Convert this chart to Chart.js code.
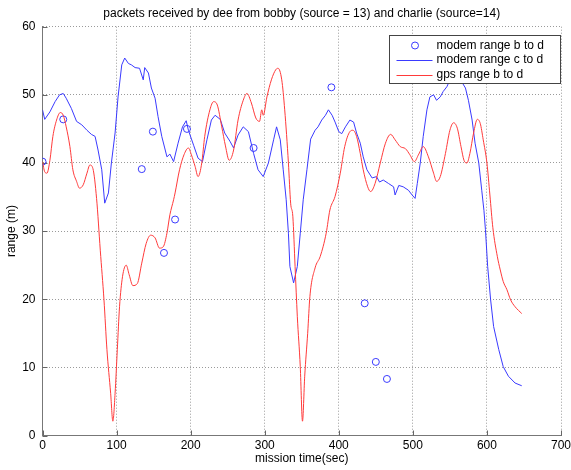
<!DOCTYPE html>
<html>
<head>
<meta charset="utf-8">
<script src="https://cdn.jsdelivr.net/npm/chart.js@4.4.0/dist/chart.umd.min.js"></script>
<style>
  html, body { margin: 0; padding: 0; background: #fff; }
  #wrap { width: 571px; height: 470px; }
</style>
</head>
<body>
<div id="wrap"><canvas id="rangeChart" width="571" height="470"></canvas></div>
<script>
// modem range b to d (single fixes, drawn as circles)
const modemBTime  = [0, 28, 134, 149, 164, 179, 195, 285, 390, 435, 450, 465];
const modemBRange = [40.2, 46.4, 39.1, 44.6, 26.8, 31.7, 45.0, 42.2, 51.1, 19.4, 10.8, 8.3];

// modem range c to d
const modemCTime = [0, 3, 10, 17, 23, 28, 32, 39, 46, 53, 60, 66, 71, 75, 80, 84, 89, 93, 98, 102,
  107, 111, 116, 120, 125, 131, 136, 138, 143, 147, 152, 156, 161, 165, 168, 172, 177, 183, 189, 194,
  197, 204, 210, 216, 222, 228, 233, 240, 246, 253, 258, 264, 271, 278, 285, 291, 298, 305, 312, 316,
  321, 325, 329, 332, 334, 339, 344, 348, 352, 357, 362, 368, 372, 377, 382, 386, 391, 395, 400, 404,
  409, 415, 420, 424, 429, 433, 438, 445, 451, 455, 460, 467, 474, 476, 481, 487, 494, 499, 503, 506,
  510, 514, 519, 523, 528, 532, 537, 541, 546, 550, 556, 561, 566, 571, 575, 580, 584, 589, 593, 596,
  598, 601, 605, 609, 616, 622, 629, 638, 647];
const modemCRange = [47.8, 46.4, 47.5, 49.0, 50.0, 50.2, 49.5, 48.0, 46.1, 45.6, 44.8, 44.2, 43.9, 41.9, 39.0, 34.1, 35.6, 40.0, 44.4, 49.7,
  54.4, 55.4, 54.6, 54.4, 54.0, 53.9, 52.2, 54.0, 53.2, 51.0, 49.5, 46.8, 43.9, 42.2, 40.9, 41.3, 40.2, 42.9, 45.3, 46.2,
  44.8, 42.6, 40.7, 40.2, 43.4, 46.3, 47.0, 46.4, 44.4, 43.2, 42.2, 44.1, 45.3, 44.6, 41.4, 39.0, 38.0, 40.0, 43.4, 45.3,
  43.4, 39.0, 34.6, 29.7, 24.8, 22.4, 24.8, 29.7, 34.6, 39.0, 43.5, 44.8, 45.3, 46.3, 47.0, 47.8, 47.0, 46.0, 44.6, 44.3,
  45.3, 46.3, 46.0, 44.4, 42.9, 40.9, 39.0, 37.8, 38.0, 37.2, 37.5, 37.0, 36.5, 35.3, 36.7, 36.5, 36.0, 35.3, 34.8, 37.0,
  40.0, 43.9, 47.8, 49.7, 50.0, 49.2, 49.7, 50.5, 51.2, 52.2, 52.6, 52.4, 51.9, 51.0, 49.2, 46.3, 42.9, 40.0, 36.0, 33.0,
  30.2, 24.8, 19.9, 16.0, 12.6, 10.1, 8.7, 7.7, 7.3];

// gps range b to d
const gpsTime = [0, 3, 6, 10, 14, 19, 24, 28, 32, 37, 41, 46, 50, 55, 60, 64, 68, 73, 78, 83,
  87, 92, 95, 98, 101, 104, 108, 113, 117, 122, 128, 134, 140, 146, 152, 158, 163, 168, 172, 177,
  179, 185, 191, 197, 201, 206, 210, 215, 219, 226, 231, 236, 242, 247, 252, 258, 264, 271, 276, 282,
  288, 293, 296, 298, 303, 309, 315, 318, 323, 327, 332, 335, 338, 341, 344, 348, 351, 354, 358, 361,
  368, 375, 383, 388, 395, 402, 408, 415, 419, 424, 429, 433, 439, 443, 449, 456, 463, 470, 476, 483,
  490, 496, 502, 508, 514, 521, 528, 532, 537, 544, 550, 555, 560, 565, 569, 573, 577, 582, 587, 591,
  595, 600, 604, 608, 614, 618, 622, 627, 632, 638, 647];
const gpsRange = [40.2, 38.7, 38.5, 40.4, 43.9, 46.3, 47.4, 47.0, 45.3, 42.4, 39.0, 37.3, 36.3, 36.8, 38.5, 39.7, 39.2, 34.8, 27.2, 19.9,
  12.6, 6.2, 2.1, 6.2, 12.6, 18.9, 23.3, 25.0, 23.6, 22.0, 22.3, 25.3, 28.2, 29.4, 29.0, 27.5, 27.7, 29.7, 32.4, 34.6,
  35.6, 39.0, 41.2, 42.2, 41.2, 39.5, 38.0, 40.0, 43.9, 47.8, 49.0, 48.5, 45.3, 42.5, 40.4, 41.9, 46.3, 49.2, 50.2, 48.8,
  46.6, 46.1, 47.8, 47.0, 49.7, 52.2, 53.7, 53.9, 52.2, 47.8, 40.0, 34.1, 32.1, 24.8, 17.5, 10.1, 2.1, 8.7, 15.0, 20.4,
  24.6, 26.3, 29.7, 33.1, 35.1, 38.5, 42.4, 44.6, 44.8, 43.9, 41.4, 39.0, 36.5, 35.8, 37.0, 40.0, 42.9, 44.2, 43.4, 42.4,
  42.1, 41.2, 40.2, 41.3, 42.4, 40.9, 38.5, 37.3, 38.0, 41.4, 44.8, 45.9, 45.1, 42.4, 40.4, 40.0, 41.4, 44.4, 46.4, 45.8,
  43.4, 40.0, 35.3, 30.5, 26.3, 24.3, 22.6, 21.4, 19.9, 18.9, 17.9];

const xTicks = [0, 100, 200, 300, 400, 500, 600, 700];
const yTicks = [0, 10, 20, 30, 40, 50, 60];

const legendLabels = ["modem range b to d", "modem range c to d", "gps range b to d"];

const toXY = (xs, ys) => xs.map((x, i) => ({ x: x, y: ys[i] }));

const BLUE = "#3a3aff";
const RED = "#ff3a3a";

Chart.defaults.font.family = "'Liberation Sans', Arial, Helvetica, sans-serif";
Chart.defaults.font.size = 12;
Chart.defaults.color = "#000";

// small tick marks pointing into the plot, like the original
const innerTicks = {
    id: "innerTicks",
    beforeDatasetsDraw(chart) {
        const { ctx, chartArea, scales } = chart;
        ctx.save();
        ctx.strokeStyle = "#666";
        ctx.lineWidth = 1;
        ctx.beginPath();
        scales.x.ticks.forEach((t) => {
            const px = Math.round(scales.x.getPixelForValue(t.value)) + 0.5;
            ctx.moveTo(px, chartArea.bottom);
            ctx.lineTo(px, chartArea.bottom - 5);
        });
        scales.y.ticks.forEach((t) => {
            const py = Math.round(scales.y.getPixelForValue(t.value)) + 0.5;
            ctx.moveTo(chartArea.left, py);
            ctx.lineTo(chartArea.left + 5, py);
        });
        ctx.stroke();
        ctx.restore();
    },
};

// boxed legend in the top right corner of the axes
const legendBox = {
    id: "legendBox",
    afterDatasetsDraw(chart) {
        const { ctx, chartArea } = chart;
        const w = 171, h = 48;
        const left = Math.round(chartArea.right - w - 1) + 0.5;
        const top = Math.round(chartArea.top + 8) + 0.5;
        ctx.save();
        ctx.fillStyle = "#fff";
        ctx.fillRect(left, top, w, h);
        ctx.strokeStyle = "#444";
        ctx.lineWidth = 1;
        ctx.strokeRect(left, top, w, h);

        const ds = chart.data.datasets;
        const rows = [top + 10, top + 24.5, top + 39];
        // circle sample
        ctx.strokeStyle = ds[0].borderColor;
        ctx.beginPath();
        ctx.arc(left + 25.5, rows[0], 3.5, 0, Math.PI * 2);
        ctx.stroke();
        // line samples
        [1, 2].forEach((i) => {
            ctx.strokeStyle = ds[i].borderColor;
            ctx.beginPath();
            ctx.moveTo(left + 7, Math.round(rows[i]) + 0.5);
            ctx.lineTo(left + 43, Math.round(rows[i]) + 0.5);
            ctx.stroke();
        });
        ctx.fillStyle = "#000";
        ctx.font = "12px 'Liberation Sans', Arial, sans-serif";
        ctx.textBaseline = "middle";
        ctx.textAlign = "left";
        legendLabels.forEach((label, i) => ctx.fillText(label, left + 47, rows[i]));
        ctx.restore();
    },
};

const ctx = document.getElementById("rangeChart").getContext("2d");
new Chart(ctx, {
    type: "line",
    data: {
        datasets: [
            {
                label: legendLabels[0],
                data: toXY(modemBTime, modemBRange),
                showLine: false,
                borderColor: BLUE,
                backgroundColor: "rgba(0,0,0,0)",
                pointRadius: 3.5,
                pointBorderWidth: 1,
                pointBackgroundColor: "rgba(0,0,0,0)",
                pointBorderColor: BLUE,
                order: 2,
            },
            {
                label: legendLabels[1],
                data: toXY(modemCTime, modemCRange),
                borderColor: BLUE,
                borderWidth: 1,
                pointRadius: 0,
                tension: 0,
                order: 1,
            },
            {
                label: legendLabels[2],
                data: toXY(gpsTime, gpsRange),
                borderColor: RED,
                borderWidth: 1,
                pointRadius: 0,
                cubicInterpolationMode: "monotone",
                order: 0,
            },
        ],
    },
    options: {
        responsive: false,
        animation: false,
        layout: { padding: { left: 0, right: 10, top: 0, bottom: 0 } },
        plugins: {
            legend: { display: false },
            tooltip: { enabled: false },
            title: {
                display: true,
                fullSize: false,
                text: "packets received by dee from bobby (source = 13) and charlie (source=14)",
                font: { size: 12, weight: "normal" },
                color: "#000",
                padding: { top: 6.8, bottom: 5.5 },
            },
        },
        scales: {
            x: {
                type: "linear",
                min: 0,
                max: 700,
                afterBuildTicks: (s) => { s.ticks = xTicks.map((v) => ({ value: v })); },
                afterFit: (s) => {
                    s.height = 34.5;
                    s.paddingLeft = 0;
                    s.paddingRight = 0;
                },
                ticks: { padding: 3.3, color: "#000" },
                grid: { color: "#9a9a9a", drawTicks: false },
                border: { color: "#777", width: 1, dash: [1, 2] },
                title: {
                    display: true,
                    text: "mission time(sec)",
                    color: "#000",
                    padding: { top: 0, bottom: 3.8 },
                },
            },
            y: {
                type: "linear",
                min: 0,
                max: 60,
                afterBuildTicks: (s) => { s.ticks = yTicks.map((v) => ({ value: v })); },
                afterFit: (s) => {
                    s.width = 42.5;
                    s.paddingTop = 0;
                    s.paddingBottom = 0;
                },
                ticks: { padding: 7, color: "#000" },
                grid: { color: "#9a9a9a", drawTicks: false },
                border: { color: "#777", width: 1, dash: [1, 2] },
                title: {
                    display: true,
                    text: "range (m)",
                    color: "#000",
                    padding: { top: 4, bottom: 0 },
                },
            },
        },
    },
    plugins: [innerTicks, legendBox],
});
</script>
</body>
</html>
